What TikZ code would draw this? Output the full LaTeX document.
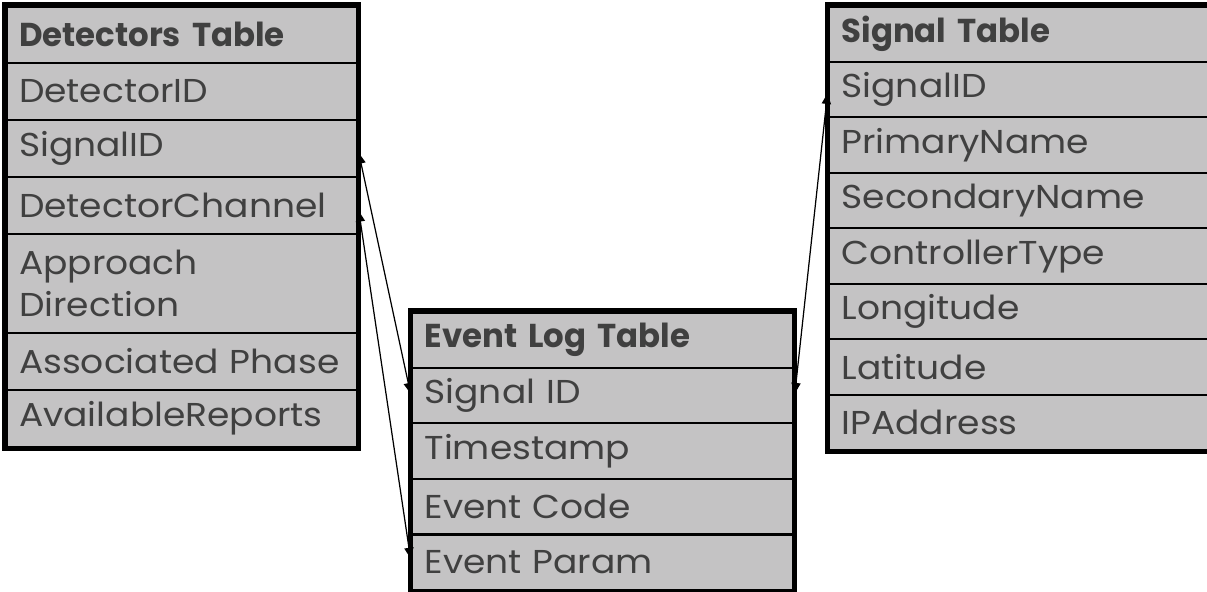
\documentclass[tikz,border=0pt]{standalone}
\usepackage{fontspec}
\setmainfont{Poppins}
\newfontfamily\rowfont[FakeStretch=1.09]{Poppins}
\newfontfamily\headfont[FakeStretch=0.98]{Poppins}
\usetikzlibrary{arrows.meta}
\definecolor{cellgray}{RGB}{196,195,196}
\definecolor{txtgray}{RGB}{64,64,64}
\begin{document}
\begin{tikzpicture}[x=0.01cm,y=-0.01cm,
  cell/.style={draw=black, line width=0.6pt, fill=cellgray, anchor=north west,
    inner xsep=0.13cm, inner ysep=0pt, text=txtgray,
    font=\rowfont\fontsize{9.4}{11.4}\selectfont, align=left},
  head/.style={cell, font=\headfont\fontsize{9.4}{11.4}\selectfont\bfseries},
  frame/.style={draw=black, line width=1.45pt},
  link/.style={draw=black, line width=0.35pt,
    {Triangle[length=3pt,width=2.6pt]}-{Triangle[length=3pt,width=2.6pt]}}]
\useasboundingbox (0,0) rectangle (1207,592);
\clip (0,0) rectangle (1207,592);
% Detectors table
\begin{scope}[every node/.append style={text width=3.255cm}]
\node[head, minimum height=0.57cm] (d0) at (5,5) {Detectors Table};
\node[cell, minimum height=0.57cm] (d1) at (5,62) {DetectorID};
\node[cell, minimum height=0.57cm] (d2) at (5,119) {SignalID};
\node[cell, minimum height=0.57cm] (d3) at (5,176) {DetectorChannel};
\node[cell, minimum height=0.99cm] (d4) at (5,233) {Approach\\[0.5pt]Direction};
\node[cell, minimum height=0.57cm] (d5) at (5,332) {Associated Phase};
\node[cell, minimum height=0.57cm] (d6) at (5,389) {AvailableReports};
\end{scope}
\draw[frame] (d0.north west) rectangle (d6.south east);
% Event log table
\begin{scope}[every node/.append style={text width=3.56cm, minimum height=0.556cm}]
\node[head] (e0) at (410.5,311) {Event Log Table};
\node[cell] (e1) at (410.5,366.6) {Signal ID};
\node[cell] (e2) at (410.5,422.2) {Timestamp};
\node[cell] (e3) at (410.5,477.8) {Event Code};
\node[cell] (e4) at (410.5,533.4) {Event Param};
\end{scope}
\draw[frame] (e0.north west) rectangle (e4.south east);
% Signal table
\begin{scope}[every node/.append style={text width=3.585cm, minimum height=0.5556cm}]
\node[head] (s0) at (827.5,5) {Signal Table};
\node[cell] (s1) at (827.5,60.56) {SignalID};
\node[cell] (s2) at (827.5,116.12) {PrimaryName};
\node[cell] (s3) at (827.5,171.68) {SecondaryName};
\node[cell] (s4) at (827.5,227.24) {ControllerType};
\node[cell] (s5) at (827.5,282.8) {Longitude};
\node[cell] (s6) at (827.5,338.36) {Latitude};
\node[cell] (s7) at (827.5,393.92) {IPAddress};
\end{scope}
\draw[frame] (s0.north west) rectangle (s7.south east);
% connectors
\draw[link] ([yshift=-0.045cm]d2.east) -- ([yshift=0.02cm]e1.west);
\draw[link] ([yshift=-0.055cm]d3.east) -- ([yshift=0.04cm]e4.west);
\draw[link] ([yshift=0.02cm]e1.east) -- ([yshift=-0.04cm]s1.west);
\end{tikzpicture}
\end{document}
